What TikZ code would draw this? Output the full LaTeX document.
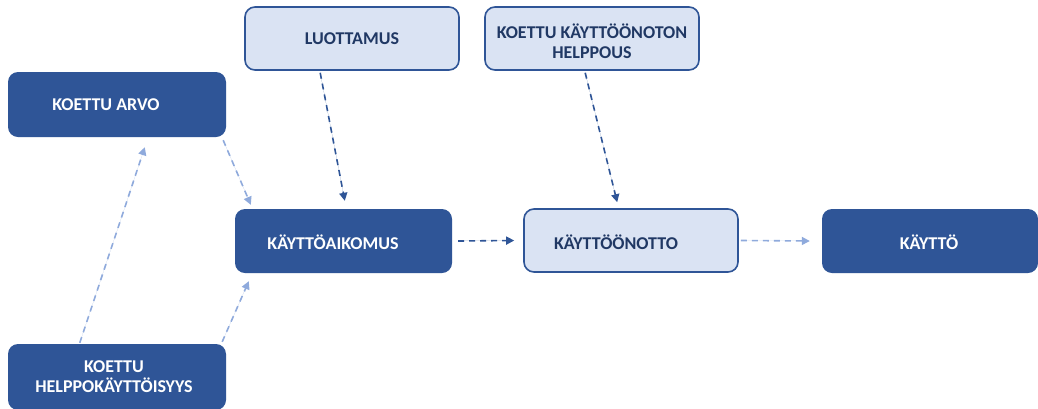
\documentclass[tikz,border=0pt]{standalone}
\usepackage{fontspec}
\setmainfont{Carlito}
\usetikzlibrary{calc,arrows.meta}
\definecolor{navy}{HTML}{2F5597}
\definecolor{pale}{HTML}{DAE3F3}
\definecolor{softblue}{HTML}{8FAADC}
\definecolor{inktext}{HTML}{203864}
\tikzset{
  darkbox/.style={draw=none, fill=navy, rounded corners=10pt, inner sep=0pt},
  palebox/.style={draw=navy, line width=1.6pt, fill=pale, rounded corners=10pt, inner sep=0pt},
  darklabel/.style={text=white, font=\bfseries\fontsize{18}{20}\selectfont, align=center, inner sep=0pt},
  palelabel/.style={text=inktext, font=\bfseries\fontsize{18}{20}\selectfont, align=center, inner sep=0pt},
  navylink/.style={draw=navy, line width=1.6pt, dash pattern=on 6pt off 5pt, -{Triangle[length=8pt,width=8pt]}, fill=navy},
  softlink/.style={draw=softblue, line width=1.6pt, dash pattern=on 6pt off 5pt, -{Triangle[length=8pt,width=8pt]}, fill=softblue},
}
\begin{document}
\begin{tikzpicture}[x=1pt,y=-1pt]
\useasboundingbox[fill=white] (0,0) rectangle (1038,408);

% boxes
\node[darkbox, minimum width=218pt, minimum height=65pt] (arvo) at (117,104.5) {};
\node[darklabel] (arvot) at (106,104.5) {KOETTU ARVO};

\node[darkbox, minimum width=218pt, minimum height=66pt] (helppo) at (117,377) {};
\node[darklabel] (helppot) at (114,377) {KOETTU\\HELPPOKÄYTTÖISYYS};

\node[palebox, minimum width=214pt, minimum height=63pt] (luottamus) at (352,38.5) {};
\node[palelabel] (luottamust) at (352,38.5) {LUOTTAMUS};

\node[palebox, minimum width=214pt, minimum height=63pt] (helppous) at (592,38.5) {};
\node[palelabel] (helppoust) at (592,41) {KOETTU KÄYTTÖÖNOTON\\HELPPOUS};

\node[darkbox, minimum width=217pt, minimum height=64pt] (aikomus) at (343.5,241) {};
\node[darklabel] (aikomust) at (333,242) {KÄYTTÖAIKOMUS};

\node[palebox, minimum width=214pt, minimum height=63pt] (otto) at (631,240.5) {};
\node[palelabel] (ottot) at (616,242) {KÄYTTÖÖNOTTO};

\node[darkbox, minimum width=216pt, minimum height=64pt] (kaytto) at (930,241) {};
\node[darklabel] (kayttot) at (929,242) {KÄYTTÖ};

% connectors
\draw[softlink] ($(arvo.south east)+(-3,3)$) -- ($(aikomus.north west)+(16,-4)$);
\draw[softlink] ($(helppo.north west)+(72,-1)$) -- ($(arvo.south west)+(137,10)$);
\draw[softlink] ($(helppo.north east)+(-4,-2)$) -- ($(aikomus.south west)+(14,8)$);
\draw[navylink] ($(luottamus.south west)+(76,2)$) -- ($(aikomus.north west)+(110,-8)$);
\draw[navylink] ($(helppous.south west)+(101,2)$) -- ($(otto.north west)+(94,-6)$);
\draw[navylink] ($(aikomus.east)+(6,0)$) -- ($(otto.west)+(-9,0)$);
\draw[softlink] ($(otto.east)+(2,0)$) -- ($(kaytto.west)+(-12,0)$);
\end{tikzpicture}
\end{document}
